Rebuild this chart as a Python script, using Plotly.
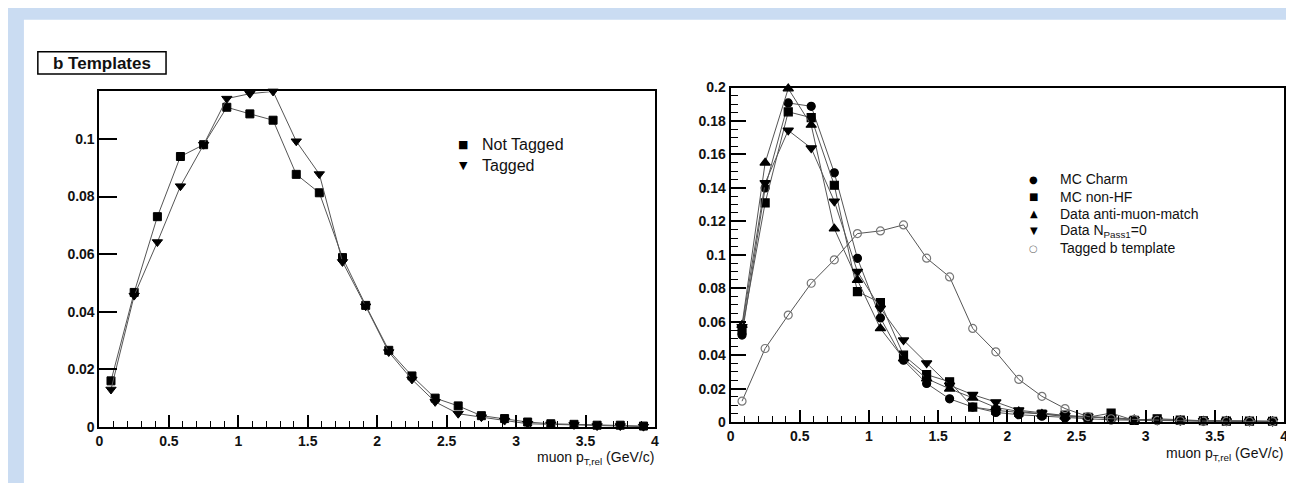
import plotly.graph_objects as go

W, H = 1294, 483

# ---------------- data ----------------
pt_rel = [0.083, 0.25, 0.417, 0.583, 0.75, 0.917, 1.083, 1.25, 1.417, 1.583, 1.75, 1.917,
          2.083, 2.25, 2.417, 2.583, 2.75, 2.917, 3.083, 3.25, 3.417, 3.583, 3.75, 3.917]

# left panel: b templates
not_tagged = [0.016, 0.0467, 0.073, 0.0939, 0.098, 0.111, 0.1087, 0.1065, 0.0877, 0.0813, 0.0588, 0.0422,
              0.0266, 0.0177, 0.0100, 0.0073, 0.0039, 0.0029, 0.0017, 0.0011, 0.0009, 0.0006, 0.0006, 0.0003]
tagged = [0.013, 0.0456, 0.0642, 0.0836, 0.098, 0.114, 0.1157, 0.1165, 0.0992, 0.0878, 0.0573, 0.0419,
          0.026, 0.0165, 0.0087, 0.0046, 0.0034, 0.0022, 0.0011, 0.0009, 0.0007, 0.0003, 0.0003, 0.0001]

# right panel: background templates
mc_charm = [0.052, 0.140, 0.1908, 0.1888, 0.149, 0.0979, 0.0623, 0.037, 0.0231, 0.0139, 0.009, 0.0058,
            0.0044, 0.0035, 0.0025, 0.002, 0.0013, 0.0010, 0.0009, 0.0008, 0.0006, 0.0005, 0.0005, 0.0004]
mc_nonhf = [0.055, 0.131, 0.1855, 0.182, 0.1416, 0.078, 0.0714, 0.040, 0.0284, 0.0241, 0.009, 0.007,
            0.0058, 0.0048, 0.0042, 0.0029, 0.0054, 0.0010, 0.0020, 0.0012, 0.0008, 0.0006, 0.0006, 0.0005]
data_anti = [0.058, 0.155, 0.1994, 0.1776, 0.1156, 0.0849, 0.056, 0.038, 0.026, 0.0199, 0.0145, 0.0087,
             0.0064, 0.0048, 0.0033, 0.0029, 0.0029, 0.0015, 0.0012, 0.0010, 0.0007, 0.0006, 0.0005, 0.0004]
data_npass = [0.057, 0.143, 0.1744, 0.1638, 0.132, 0.090, 0.068, 0.049, 0.0353, 0.022, 0.0164, 0.012,
              0.0071, 0.0054, 0.0039, 0.0033, 0.0025, 0.0015, 0.0012, 0.0010, 0.0008, 0.0006, 0.0005, 0.0004]
tagged_b = [0.0125, 0.044, 0.064, 0.083, 0.097, 0.1127, 0.1143, 0.1179, 0.098, 0.0868, 0.056, 0.042,
            0.0255, 0.0154, 0.0081, 0.0033, 0.002, 0.0015, 0.0010, 0.0008, 0.0006, 0.0004, 0.0004, 0.0003]

x_ticks = [0, 0.5, 1, 1.5, 2, 2.5, 3, 3.5, 4]
x_tick_text = ["0", "0.5", "1", "1.5", "2", "2.5", "3", "3.5", "4"]
yl_ticks = [0, 0.02, 0.04, 0.06, 0.08, 0.1]
yl_tick_text = ["0", "0.02", "0.04", "0.06", "0.08", "0.1"]
yr_ticks = [0, 0.02, 0.04, 0.06, 0.08, 0.1, 0.12, 0.14, 0.16, 0.18, 0.2]
yr_tick_text = ["0", "0.02", "0.04", "0.06", "0.08", "0.1", "0.12", "0.14", "0.16", "0.18", "0.2"]

# (legend label, values, plotly symbol, marker size, colour, legend glyph)
left_series = [
    ("Not Tagged", not_tagged, "square", 8, "black", "\u25A0"),
    ("Tagged", tagged, "triangle-down", 9, "black", "\u25BC"),
]
right_series = [
    ("MC Charm", mc_charm, "circle", 8, "black", "\u25CF"),
    ("MC non-HF", mc_nonhf, "square", 8, "black", "\u25A0"),
    ("Data anti-muon-match", data_anti, "triangle-up", 9, "black", "\u25B2"),
    ("Data N<sub>Pass1</sub>=0", data_npass, "triangle-down", 9, "black", "\u25BC"),
    ("Tagged b template", tagged_b, "circle-open", 8, "#777777", "\u25CB"),
]

FONT = "Liberation Sans, Arial, Helvetica, sans-serif"
SYMFONT = "DejaVu Sans, sans-serif"
LINE = "#555555"


def px_x(p):
    return p / W


def px_y(p):
    return 1 - p / H


fig = go.Figure()
annotations = []

for name, vals, sym, size, col, glyph in left_series:
    fig.add_trace(go.Scatter(x=pt_rel, y=vals, mode="lines+markers", xaxis="x", yaxis="y", name=name,
                             line=dict(color=LINE, width=1),
                             marker=dict(symbol=sym, size=size, color=col, line=dict(color=col, width=1)),
                             cliponaxis=False, showlegend=False, hoverinfo="skip"))

for name, vals, sym, size, col, glyph in right_series:
    fig.add_trace(go.Scatter(x=pt_rel, y=vals, mode="lines+markers", xaxis="x2", yaxis="y2", name=name,
                             line=dict(color=LINE, width=1),
                             marker=dict(symbol=sym, size=size, color=col, line=dict(color=col, width=1.2)),
                             cliponaxis=False, showlegend=False, hoverinfo="skip"))

# legend built from text (glyph + label)
for i, (name, vals, sym, size, col, glyph) in enumerate(left_series):
    yrow = 133 + 22 * i
    annotations.append(dict(text=glyph, xref="paper", yref="paper", x=px_x(454), y=px_y(yrow),
                            xanchor="center", yanchor="middle", showarrow=False,
                            font=dict(family=SYMFONT, size=11, color=col)))
    annotations.append(dict(text=name, xref="paper", yref="paper", x=px_x(471), y=px_y(yrow),
                            xanchor="left", yanchor="middle", showarrow=False,
                            font=dict(family=FONT, size=16, color="#111111")))

for i, (name, vals, sym, size, col, glyph) in enumerate(right_series):
    yrow = 169 + 17.75 * i
    annotations.append(dict(text=glyph, xref="paper", yref="paper", x=px_x(1028), y=px_y(yrow),
                            xanchor="center", yanchor="middle", showarrow=False,
                            font=dict(family=SYMFONT, size=10, color=col)))
    annotations.append(dict(text=name, xref="paper", yref="paper", x=px_x(1053), y=px_y(yrow),
                            xanchor="left", yanchor="middle", showarrow=False,
                            font=dict(family=FONT, size=14, color="#111111")))

tickfont = dict(family=FONT, size=14, color="#111111", weight="bold")
common_x = dict(range=[0, 4], tickmode="array", tickvals=x_ticks, ticktext=x_tick_text,
                ticks="inside", ticklen=12, tickwidth=1.5, tickcolor="black",
                minor=dict(dtick=0.1, ticks="inside", ticklen=6, tickwidth=1.2, tickcolor="black"),
                showline=True, linecolor="black", linewidth=2, mirror=True,
                showgrid=False, zeroline=False, tickfont=tickfont, fixedrange=True)

annotations += [
    dict(text="<b>b Templates</b>", xref="paper", yref="paper", x=px_x(90.5), y=px_y(49),
         xanchor="center", yanchor="middle", showarrow=False,
         font=dict(family=FONT, size=17, color="#111111")),
    dict(text="muon p<sub>T,rel</sub> (GeV/c)", xref="paper", yref="paper", x=px_x(648), y=px_y(457),
         xanchor="right", yanchor="middle", showarrow=False,
         font=dict(family=FONT, size=14, color="#111111")),
    dict(text="muon p<sub>T,rel</sub> (GeV/c)", xref="paper", yref="paper", x=px_x(1281), y=px_y(453),
         xanchor="right", yanchor="middle", showarrow=False,
         font=dict(family=FONT, size=14, color="#111111")),
]

fig.update_layout(
    width=W, height=H,
    margin=dict(l=0, r=0, t=0, b=0),
    paper_bgcolor="#cadcf2",
    plot_bgcolor="white",
    font=dict(family=FONT, color="#111111"),
    showlegend=False,
    xaxis=dict(domain=[px_x(88), px_x(647)], anchor="y", **common_x),
    yaxis=dict(domain=[px_y(425), px_y(78)], anchor="x", range=[0, 0.1165],
               tickmode="array", tickvals=yl_ticks, ticktext=yl_tick_text,
               ticks="inside", ticklen=18, tickwidth=1.5, tickcolor="black",
               showline=True, linecolor="black", linewidth=2, mirror=True,
               showgrid=False, zeroline=False, tickfont=tickfont, fixedrange=True),
    xaxis2=dict(domain=[px_x(723), px_x(1280)], anchor="y2", **common_x),
    yaxis2=dict(domain=[px_y(420), px_y(74)], anchor="x2", range=[0, 0.2],
                tickmode="array", tickvals=yr_ticks, ticktext=yr_tick_text,
                ticks="inside", ticklen=15, tickwidth=1.5, tickcolor="black",
                minor=dict(dtick=0.005, ticks="inside", ticklen=7, tickwidth=1.2, tickcolor="black"),
                showline=True, linecolor="black", linewidth=2, mirror=True,
                showgrid=False, zeroline=False, tickfont=tickfont, fixedrange=True),
    shapes=[
        dict(type="rect", xref="paper", yref="paper", x0=px_x(12), x1=px_x(1289), y0=0, y1=px_y(4),
             fillcolor="white", line=dict(width=0), layer="below"),
        dict(type="rect", xref="paper", yref="paper", x0=px_x(26), x1=px_x(155), y0=px_y(60), y1=px_y(37),
             fillcolor="white", line=dict(color="black", width=1.5), layer="above"),
    ],
    annotations=annotations,
)

fig.write_html("out.html")
